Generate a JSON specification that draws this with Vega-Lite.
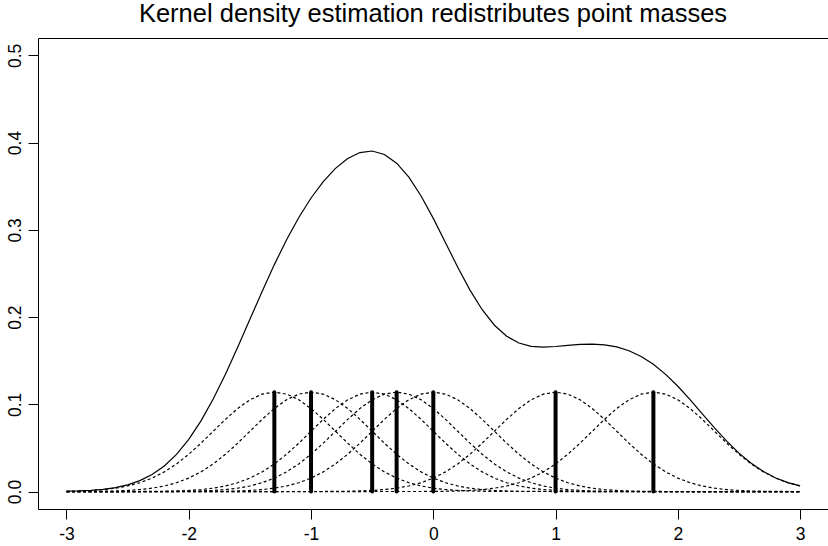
{
"$schema": "https://vega.github.io/schema/vega-lite/v6.json",
"width": 790,
"height": 471,
"autosize": {"type": "none"},
"padding": {"left": 38, "top": 38, "right": 0, "bottom": 37},
"background": "white",
"title": {"text": "Kernel density estimation redistributes point masses", "fontSize": 25.5, "fontWeight": "normal", "font": "Liberation Sans", "color": "black", "anchor": "middle", "frame": "group", "baseline": "alphabetic", "offset": 14, "dy": 23},
"config": {
  "view": {"stroke": null},
  "font": "Liberation Sans",
  "axis": {"grid": false, "domainColor": "black", "tickColor": "black", "labelColor": "black", "domainWidth": 1, "tickWidth": 1, "labelFont": "Liberation Sans", "labelFontSize": 17.5, "tickSize": 10, "title": null}
},
"datasets": {
"pts": [{"x": -1.3, "h": 0.11398}, {"x": -1.0, "h": 0.11398}, {"x": -0.5, "h": 0.11398}, {"x": -0.3, "h": 0.11398}, {"x": 0.0, "h": 0.11398}, {"x": 1.0, "h": 0.11398}, {"x": 1.8, "h": 0.11398}],
"dens": [
{"x":-3.0,"y":0.00039},{"x":-2.9,"y":0.00076},{"x":-2.8,"y":0.00144},{"x":-2.7,"y":0.00261},{"x":-2.6,"y":0.00458},{"x":-2.5,"y":0.00771},{"x":-2.4,"y":0.0125},{"x":-2.3,"y":0.01952},{"x":-2.2,"y":0.02939},{"x":-2.1,"y":0.0427},{"x":-2.0,"y":0.05987},{"x":-1.9,"y":0.08106},{"x":-1.8,"y":0.10614},{"x":-1.7,"y":0.13456},{"x":-1.6,"y":0.16538},{"x":-1.5,"y":0.19745},{"x":-1.4,"y":0.22945},{"x":-1.3,"y":0.26018},{"x":-1.2,"y":0.28868},{"x":-1.1,"y":0.31427},{"x":-1.0,"y":0.33656},{"x":-0.9,"y":0.35538},{"x":-0.8,"y":0.37054},{"x":-0.7,"y":0.3818},{"x":-0.6,"y":0.38863},{"x":-0.5,"y":0.39042},{"x":-0.4,"y":0.38651},{"x":-0.3,"y":0.37651},{"x":-0.2,"y":0.36041},{"x":-0.1,"y":0.33889},{"x":0.0,"y":0.31322},{"x":0.1,"y":0.28528},{"x":0.2,"y":0.25717},{"x":0.3,"y":0.23098},{"x":0.4,"y":0.20846},{"x":0.5,"y":0.1907},{"x":0.6,"y":0.17811},{"x":0.7,"y":0.17034},{"x":0.8,"y":0.16655},{"x":0.9,"y":0.16558},{"x":1.0,"y":0.16629},{"x":1.1,"y":0.1676},{"x":1.2,"y":0.16872},{"x":1.3,"y":0.16906},{"x":1.4,"y":0.16823},{"x":1.5,"y":0.16581},{"x":1.6,"y":0.16148},{"x":1.7,"y":0.15489},{"x":1.8,"y":0.14586},{"x":1.9,"y":0.13436},{"x":2.0,"y":0.12069},{"x":2.1,"y":0.10536},{"x":2.2,"y":0.08917},{"x":2.3,"y":0.07301},{"x":2.4,"y":0.05774},{"x":2.5,"y":0.04405},{"x":2.6,"y":0.03237},{"x":2.7,"y":0.02291},{"x":2.8,"y":0.0156},{"x":2.9,"y":0.01022},{"x":3.0,"y":0.00644}
],
"kern": [
{"k":"a","x":-3.0,"y":0.00035},{"k":"a","x":-2.9,"y":0.00068},{"k":"a","x":-2.8,"y":0.00127},{"k":"a","x":-2.7,"y":0.00226},{"k":"a","x":-2.6,"y":0.00388},{"k":"a","x":-2.5,"y":0.0064},{"k":"a","x":-2.4,"y":0.01014},{"k":"a","x":-2.3,"y":0.01543},{"k":"a","x":-2.2,"y":0.02256},{"k":"a","x":-2.1,"y":0.03169},{"k":"a","x":-2.0,"y":0.04278},{"k":"a","x":-1.9,"y":0.05548},{"k":"a","x":-1.8,"y":0.06913},{"k":"a","x":-1.7,"y":0.08277},{"k":"a","x":-1.6,"y":0.0952},{"k":"a","x":-1.5,"y":0.10522},{"k":"a","x":-1.4,"y":0.11172},{"k":"a","x":-1.3,"y":0.11398},{"k":"a","x":-1.2,"y":0.11172},{"k":"a","x":-1.1,"y":0.10522},{"k":"a","x":-1.0,"y":0.0952},{"k":"a","x":-0.9,"y":0.08277},{"k":"a","x":-0.8,"y":0.06913},{"k":"a","x":-0.7,"y":0.05548},{"k":"a","x":-0.6,"y":0.04278},{"k":"a","x":-0.5,"y":0.03169},{"k":"a","x":-0.4,"y":0.02256},{"k":"a","x":-0.3,"y":0.01543},{"k":"a","x":-0.2,"y":0.01014},{"k":"a","x":-0.1,"y":0.0064},{"k":"a","x":0.0,"y":0.00388},{"k":"a","x":0.1,"y":0.00226},{"k":"a","x":0.2,"y":0.00127},{"k":"a","x":0.3,"y":0.00068},{"k":"a","x":0.4,"y":0.00035},{"k":"a","x":0.5,"y":0.00017},{"k":"a","x":0.6,"y":0.00008},{"k":"a","x":0.7,"y":0.00004},{"k":"a","x":3.0,"y":0},
{"k":"b","x":-3.0,"y":0.00004},{"k":"b","x":-2.9,"y":0.00008},{"k":"b","x":-2.8,"y":0.00017},{"k":"b","x":-2.7,"y":0.00035},{"k":"b","x":-2.6,"y":0.00068},{"k":"b","x":-2.5,"y":0.00127},{"k":"b","x":-2.4,"y":0.00226},{"k":"b","x":-2.3,"y":0.00388},{"k":"b","x":-2.2,"y":0.0064},{"k":"b","x":-2.1,"y":0.01014},{"k":"b","x":-2.0,"y":0.01543},{"k":"b","x":-1.9,"y":0.02256},{"k":"b","x":-1.8,"y":0.03169},{"k":"b","x":-1.7,"y":0.04278},{"k":"b","x":-1.6,"y":0.05548},{"k":"b","x":-1.5,"y":0.06913},{"k":"b","x":-1.4,"y":0.08277},{"k":"b","x":-1.3,"y":0.0952},{"k":"b","x":-1.2,"y":0.10522},{"k":"b","x":-1.1,"y":0.11172},{"k":"b","x":-1.0,"y":0.11398},{"k":"b","x":-0.9,"y":0.11172},{"k":"b","x":-0.8,"y":0.10522},{"k":"b","x":-0.7,"y":0.0952},{"k":"b","x":-0.6,"y":0.08277},{"k":"b","x":-0.5,"y":0.06913},{"k":"b","x":-0.4,"y":0.05548},{"k":"b","x":-0.3,"y":0.04278},{"k":"b","x":-0.2,"y":0.03169},{"k":"b","x":-0.1,"y":0.02256},{"k":"b","x":0.0,"y":0.01543},{"k":"b","x":0.1,"y":0.01014},{"k":"b","x":0.2,"y":0.0064},{"k":"b","x":0.3,"y":0.00388},{"k":"b","x":0.4,"y":0.00226},{"k":"b","x":0.5,"y":0.00127},{"k":"b","x":0.6,"y":0.00068},{"k":"b","x":0.7,"y":0.00035},{"k":"b","x":0.8,"y":0.00017},{"k":"b","x":0.9,"y":0.00008},{"k":"b","x":1.0,"y":0.00004},{"k":"b","x":3.0,"y":0},
{"k":"c","x":-3.0,"y":0},{"k":"c","x":-2.5,"y":0.00004},{"k":"c","x":-2.4,"y":0.00008},{"k":"c","x":-2.3,"y":0.00017},{"k":"c","x":-2.2,"y":0.00035},{"k":"c","x":-2.1,"y":0.00068},{"k":"c","x":-2.0,"y":0.00127},{"k":"c","x":-1.9,"y":0.00226},{"k":"c","x":-1.8,"y":0.00388},{"k":"c","x":-1.7,"y":0.0064},{"k":"c","x":-1.6,"y":0.01014},{"k":"c","x":-1.5,"y":0.01543},{"k":"c","x":-1.4,"y":0.02256},{"k":"c","x":-1.3,"y":0.03169},{"k":"c","x":-1.2,"y":0.04278},{"k":"c","x":-1.1,"y":0.05548},{"k":"c","x":-1.0,"y":0.06913},{"k":"c","x":-0.9,"y":0.08277},{"k":"c","x":-0.8,"y":0.0952},{"k":"c","x":-0.7,"y":0.10522},{"k":"c","x":-0.6,"y":0.11172},{"k":"c","x":-0.5,"y":0.11398},{"k":"c","x":-0.4,"y":0.11172},{"k":"c","x":-0.3,"y":0.10522},{"k":"c","x":-0.2,"y":0.0952},{"k":"c","x":-0.1,"y":0.08277},{"k":"c","x":0.0,"y":0.06913},{"k":"c","x":0.1,"y":0.05548},{"k":"c","x":0.2,"y":0.04278},{"k":"c","x":0.3,"y":0.03169},{"k":"c","x":0.4,"y":0.02256},{"k":"c","x":0.5,"y":0.01543},{"k":"c","x":0.6,"y":0.01014},{"k":"c","x":0.7,"y":0.0064},{"k":"c","x":0.8,"y":0.00388},{"k":"c","x":0.9,"y":0.00226},{"k":"c","x":1.0,"y":0.00127},{"k":"c","x":1.1,"y":0.00068},{"k":"c","x":1.2,"y":0.00035},{"k":"c","x":1.3,"y":0.00017},{"k":"c","x":1.4,"y":0.00008},{"k":"c","x":1.5,"y":0.00004},{"k":"c","x":3.0,"y":0},
{"k":"d","x":-3.0,"y":0},{"k":"d","x":-2.3,"y":0.00004},{"k":"d","x":-2.2,"y":0.00008},{"k":"d","x":-2.1,"y":0.00017},{"k":"d","x":-2.0,"y":0.00035},{"k":"d","x":-1.9,"y":0.00068},{"k":"d","x":-1.8,"y":0.00127},{"k":"d","x":-1.7,"y":0.00226},{"k":"d","x":-1.6,"y":0.00388},{"k":"d","x":-1.5,"y":0.0064},{"k":"d","x":-1.4,"y":0.01014},{"k":"d","x":-1.3,"y":0.01543},{"k":"d","x":-1.2,"y":0.02256},{"k":"d","x":-1.1,"y":0.03169},{"k":"d","x":-1.0,"y":0.04278},{"k":"d","x":-0.9,"y":0.05548},{"k":"d","x":-0.8,"y":0.06913},{"k":"d","x":-0.7,"y":0.08277},{"k":"d","x":-0.6,"y":0.0952},{"k":"d","x":-0.5,"y":0.10522},{"k":"d","x":-0.4,"y":0.11172},{"k":"d","x":-0.3,"y":0.11398},{"k":"d","x":-0.2,"y":0.11172},{"k":"d","x":-0.1,"y":0.10522},{"k":"d","x":0.0,"y":0.0952},{"k":"d","x":0.1,"y":0.08277},{"k":"d","x":0.2,"y":0.06913},{"k":"d","x":0.3,"y":0.05548},{"k":"d","x":0.4,"y":0.04278},{"k":"d","x":0.5,"y":0.03169},{"k":"d","x":0.6,"y":0.02256},{"k":"d","x":0.7,"y":0.01543},{"k":"d","x":0.8,"y":0.01014},{"k":"d","x":0.9,"y":0.0064},{"k":"d","x":1.0,"y":0.00388},{"k":"d","x":1.1,"y":0.00226},{"k":"d","x":1.2,"y":0.00127},{"k":"d","x":1.3,"y":0.00068},{"k":"d","x":1.4,"y":0.00035},{"k":"d","x":1.5,"y":0.00017},{"k":"d","x":1.6,"y":0.00008},{"k":"d","x":1.7,"y":0.00004},{"k":"d","x":3.0,"y":0},
{"k":"e","x":-3.0,"y":0},{"k":"e","x":-2.0,"y":0.00004},{"k":"e","x":-1.9,"y":0.00008},{"k":"e","x":-1.8,"y":0.00017},{"k":"e","x":-1.7,"y":0.00035},{"k":"e","x":-1.6,"y":0.00068},{"k":"e","x":-1.5,"y":0.00127},{"k":"e","x":-1.4,"y":0.00226},{"k":"e","x":-1.3,"y":0.00388},{"k":"e","x":-1.2,"y":0.0064},{"k":"e","x":-1.1,"y":0.01014},{"k":"e","x":-1.0,"y":0.01543},{"k":"e","x":-0.9,"y":0.02256},{"k":"e","x":-0.8,"y":0.03169},{"k":"e","x":-0.7,"y":0.04278},{"k":"e","x":-0.6,"y":0.05548},{"k":"e","x":-0.5,"y":0.06913},{"k":"e","x":-0.4,"y":0.08277},{"k":"e","x":-0.3,"y":0.0952},{"k":"e","x":-0.2,"y":0.10522},{"k":"e","x":-0.1,"y":0.11172},{"k":"e","x":0.0,"y":0.11398},{"k":"e","x":0.1,"y":0.11172},{"k":"e","x":0.2,"y":0.10522},{"k":"e","x":0.3,"y":0.0952},{"k":"e","x":0.4,"y":0.08277},{"k":"e","x":0.5,"y":0.06913},{"k":"e","x":0.6,"y":0.05548},{"k":"e","x":0.7,"y":0.04278},{"k":"e","x":0.8,"y":0.03169},{"k":"e","x":0.9,"y":0.02256},{"k":"e","x":1.0,"y":0.01543},{"k":"e","x":1.1,"y":0.01014},{"k":"e","x":1.2,"y":0.0064},{"k":"e","x":1.3,"y":0.00388},{"k":"e","x":1.4,"y":0.00226},{"k":"e","x":1.5,"y":0.00127},{"k":"e","x":1.6,"y":0.00068},{"k":"e","x":1.7,"y":0.00035},{"k":"e","x":1.8,"y":0.00017},{"k":"e","x":1.9,"y":0.00008},{"k":"e","x":2.0,"y":0.00004},{"k":"e","x":3.0,"y":0},
{"k":"f","x":-3.0,"y":0},{"k":"f","x":-1.0,"y":0.00004},{"k":"f","x":-0.9,"y":0.00008},{"k":"f","x":-0.8,"y":0.00017},{"k":"f","x":-0.7,"y":0.00035},{"k":"f","x":-0.6,"y":0.00068},{"k":"f","x":-0.5,"y":0.00127},{"k":"f","x":-0.4,"y":0.00226},{"k":"f","x":-0.3,"y":0.00388},{"k":"f","x":-0.2,"y":0.0064},{"k":"f","x":-0.1,"y":0.01014},{"k":"f","x":0.0,"y":0.01543},{"k":"f","x":0.1,"y":0.02256},{"k":"f","x":0.2,"y":0.03169},{"k":"f","x":0.3,"y":0.04278},{"k":"f","x":0.4,"y":0.05548},{"k":"f","x":0.5,"y":0.06913},{"k":"f","x":0.6,"y":0.08277},{"k":"f","x":0.7,"y":0.0952},{"k":"f","x":0.8,"y":0.10522},{"k":"f","x":0.9,"y":0.11172},{"k":"f","x":1.0,"y":0.11398},{"k":"f","x":1.1,"y":0.11172},{"k":"f","x":1.2,"y":0.10522},{"k":"f","x":1.3,"y":0.0952},{"k":"f","x":1.4,"y":0.08277},{"k":"f","x":1.5,"y":0.06913},{"k":"f","x":1.6,"y":0.05548},{"k":"f","x":1.7,"y":0.04278},{"k":"f","x":1.8,"y":0.03169},{"k":"f","x":1.9,"y":0.02256},{"k":"f","x":2.0,"y":0.01543},{"k":"f","x":2.1,"y":0.01014},{"k":"f","x":2.2,"y":0.0064},{"k":"f","x":2.3,"y":0.00388},{"k":"f","x":2.4,"y":0.00226},{"k":"f","x":2.5,"y":0.00127},{"k":"f","x":2.6,"y":0.00068},{"k":"f","x":2.7,"y":0.00035},{"k":"f","x":2.8,"y":0.00017},{"k":"f","x":2.9,"y":0.00008},{"k":"f","x":3.0,"y":0.00004},
{"k":"g","x":-3.0,"y":0},{"k":"g","x":-0.2,"y":0.00004},{"k":"g","x":-0.1,"y":0.00008},{"k":"g","x":0.0,"y":0.00017},{"k":"g","x":0.1,"y":0.00035},{"k":"g","x":0.2,"y":0.00068},{"k":"g","x":0.3,"y":0.00127},{"k":"g","x":0.4,"y":0.00226},{"k":"g","x":0.5,"y":0.00388},{"k":"g","x":0.6,"y":0.0064},{"k":"g","x":0.7,"y":0.01014},{"k":"g","x":0.8,"y":0.01543},{"k":"g","x":0.9,"y":0.02256},{"k":"g","x":1.0,"y":0.03169},{"k":"g","x":1.1,"y":0.04278},{"k":"g","x":1.2,"y":0.05548},{"k":"g","x":1.3,"y":0.06913},{"k":"g","x":1.4,"y":0.08277},{"k":"g","x":1.5,"y":0.0952},{"k":"g","x":1.6,"y":0.10522},{"k":"g","x":1.7,"y":0.11172},{"k":"g","x":1.8,"y":0.11398},{"k":"g","x":1.9,"y":0.11172},{"k":"g","x":2.0,"y":0.10522},{"k":"g","x":2.1,"y":0.0952},{"k":"g","x":2.2,"y":0.08277},{"k":"g","x":2.3,"y":0.06913},{"k":"g","x":2.4,"y":0.05548},{"k":"g","x":2.5,"y":0.04278},{"k":"g","x":2.6,"y":0.03169},{"k":"g","x":2.7,"y":0.02256},{"k":"g","x":2.8,"y":0.01543},{"k":"g","x":2.9,"y":0.01014},{"k":"g","x":3.0,"y":0.0064}
]
},
"resolve": {"axis": {"x": "independent"}},
"layer": [
{
  "data": {"name": "kern"},
  "mark": {"type": "line", "color": "black", "strokeWidth": 1.2, "strokeDash": [3, 2.5]},
  "encoding": {
    "x": {"field": "x", "type": "quantitative", "scale": {"domain": [-3.233, 3.228], "nice": false, "zero": false},
          "axis": {"orient": "bottom", "values": [-3, -2, -1, 0, 1, 2, 3], "labelExpr": "datum.value < 0 ? '-' + abs(datum.value) : '' + datum.value", "labelBaseline": "alphabetic", "labelPadding": 20, "labelAlign": "center", "labelFlush": false}},
    "y": {"field": "y", "type": "quantitative", "scale": {"domain": [-0.02, 0.52], "nice": false, "zero": false},
          "axis": {"orient": "left", "values": [0, 0.1, 0.2, 0.3, 0.4, 0.5], "format": ".1f", "labelAngle": -90, "labelAlign": "center", "labelBaseline": "alphabetic", "labelPadding": 8, "labelFlush": false}},
    "detail": {"field": "k", "type": "nominal"}
  }
},
{
  "data": {"name": "dens"},
  "mark": {"type": "line", "color": "black", "strokeWidth": 1.2},
  "encoding": {
    "x": {"field": "x", "type": "quantitative", "axis": {"orient": "top", "labels": false, "ticks": false, "domain": true}},
    "y": {"field": "y", "type": "quantitative"}
  }
},
{
  "data": {"name": "pts"},
  "mark": {"type": "rule", "color": "black", "strokeWidth": 4, "strokeCap": "round"},
  "encoding": {
    "x": {"field": "x", "type": "quantitative", "axis": null},
    "y": {"field": "h", "type": "quantitative"},
    "y2": {"datum": 0}
  }
}
]
}
